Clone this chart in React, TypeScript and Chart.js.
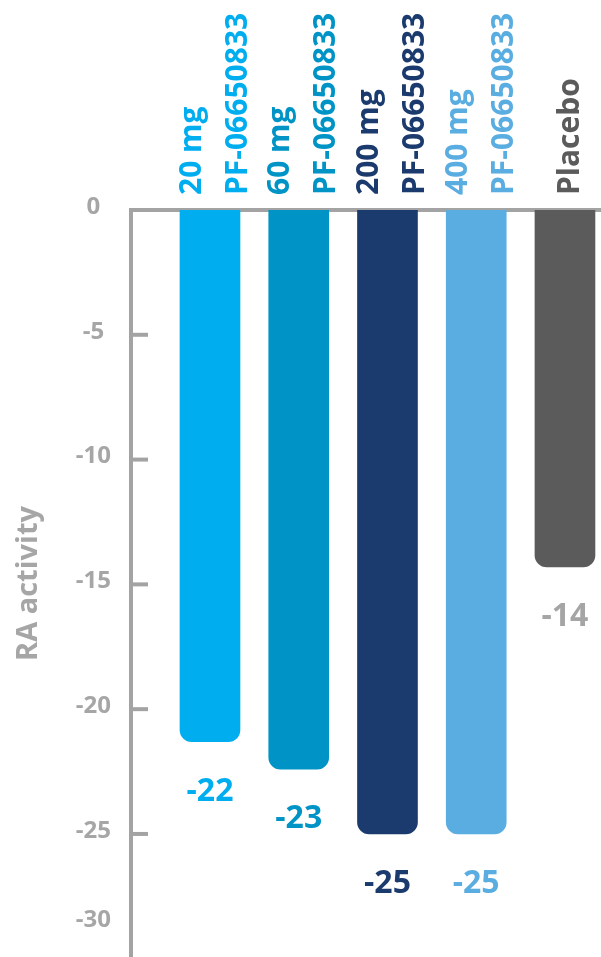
import React, { useEffect, useRef } from "react";
import { Chart, registerables } from "chart.js";

Chart.register(...registerables);

// ---- data ----
const categoryLines: string[][] = [
  ["20 mg", "PF-06650833"],
  ["60 mg", "PF-06650833"],
  ["200 mg", "PF-06650833"],
  ["400 mg", "PF-06650833"],
  ["Placebo"],
];
const barValues = [-21.3, -22.4, -25, -25, -14.3];
const valueLabels = ["-22", "-23", "-25", "-25", "-14"];
const barColors = ["#00AEEF", "#0094C6", "#1B3B6E", "#5AADE0", "#5B5B5B"];
const valueLabelColors = ["#00AEEF", "#0094C6", "#1B3B6E", "#5AADE0", "#A5A5A5"];
const yTickValues = [0, -5, -10, -15, -20, -25, -30];
const yTickLabels = ["0", "-5", "-10", "-15", "-20", "-25", "-30"];
const yAxisTitle = "RA activity";

const Y_MIN = -29.93;
const Y_MAX = 0;
const AXIS_GRAY = "#A3A3A3";
const TEXT_GRAY = "#A6A6A6";
const FONT = "'Open Sans', 'DejaVu Sans', sans-serif";

const labelsPlugin = {
  id: "customLabels",
  afterDatasetsDraw(chart: any) {
    const ctx = chart.ctx;
    const area = chart.chartArea;
    const yScale = chart.scales.y;
    const meta = chart.getDatasetMeta(0);
    ctx.save();
    // inner tick marks
    ctx.strokeStyle = AXIS_GRAY;
    ctx.lineWidth = 4;
    yTickValues.forEach((v) => {
      if (v === 0 || v < Y_MIN) return;
      const py = yScale.getPixelForValue(v);
      ctx.beginPath();
      ctx.moveTo(area.left, py);
      ctx.lineTo(area.left + 17, py);
      ctx.stroke();
    });
    // value labels under bars
    ctx.font = `bold 32px ${FONT}`;
    ctx.textAlign = "center";
    ctx.textBaseline = "middle";
    meta.data.forEach((bar: any, i: number) => {
      ctx.fillStyle = valueLabelColors[i];
      ctx.fillText(valueLabels[i], bar.x, bar.y + 50);
    });
    // rotated category labels above the axis
    const fs = 30;
    ctx.font = `bold ${fs}px ${FONT}`;
    ctx.textAlign = "left";
    ctx.textBaseline = "alphabetic";
    meta.data.forEach((bar: any, i: number) => {
      const lines = categoryLines[i];
      const n = lines.length;
      lines.forEach((line, j) => {
        const center = bar.x + 3 + (j - (n - 1) / 2) * 46;
        const bx = center + 0.357 * fs;
        ctx.save();
        ctx.translate(bx, area.top - 15);
        ctx.rotate(-Math.PI / 2);
        ctx.fillStyle = barColors[i];
        ctx.fillText(line, 0, 0);
        ctx.restore();
      });
    });
    ctx.restore();
  },
};

export default function App() {
  const canvasRef = useRef<HTMLCanvasElement | null>(null);

  useEffect(() => {
    if (!canvasRef.current) return;
    const chart = new Chart(canvasRef.current, {
      type: "bar",
      data: {
        datasets: [
          {
            data: barValues.map((v, i) => ({ x: i + 1, y: v })),
            backgroundColor: barColors,
            barThickness: 60,
            borderRadius: 12,
            borderSkipped: "start",
          },
        ],
      },
      options: {
        responsive: false,
        animation: false,
        layout: { padding: { top: 210, left: 0, right: 0, bottom: 0 } },
        plugins: { legend: { display: false }, tooltip: { enabled: false } },
        scales: {
          x: {
            type: "linear",
            position: "top",
            min: 0.11,
            max: 5.406,
            offset: false,
            z: 1,
            ticks: { display: false },
            grid: { display: false, drawTicks: false },
            border: { display: true, color: AXIS_GRAY, width: 4 },
          },
          y: {
            type: "linear",
            min: Y_MIN,
            max: Y_MAX,
            z: 1,
            afterBuildTicks: (scale: any) => {
              scale.ticks = yTickValues.map((v) => ({ value: Math.max(v, Y_MIN + 1.35) }));
            },
            afterFit: (scale: any) => {
              scale.width = 131;
              scale.paddingBottom = 0;
            },
            ticks: {
              callback: (_v: any, idx: number) => yTickLabels[idx],
              color: TEXT_GRAY,
              font: { family: FONT, size: 24, weight: "bold" },
              crossAlign: "center",
              padding: 20,
              labelOffset: -3,
              autoSkip: false,
            },
            grid: { display: false, drawTicks: false },
            border: { display: true, color: AXIS_GRAY, width: 4 },
            title: {
              display: true,
              text: yAxisTitle,
              color: TEXT_GRAY,
              font: { family: FONT, size: 29, weight: "bold" },
              padding: { top: 11, bottom: 0 },
            },
          },
        },
      },
      plugins: [labelsPlugin],
    } as any);
    return () => chart.destroy();
  }, []);

  return (
    <div style={{ position: "absolute", left: 0, top: 0, width: 601, height: 957, background: "#fff" }}>
      <canvas ref={canvasRef} width={601} height={957} style={{ display: "block" }} />
    </div>
  );
}
